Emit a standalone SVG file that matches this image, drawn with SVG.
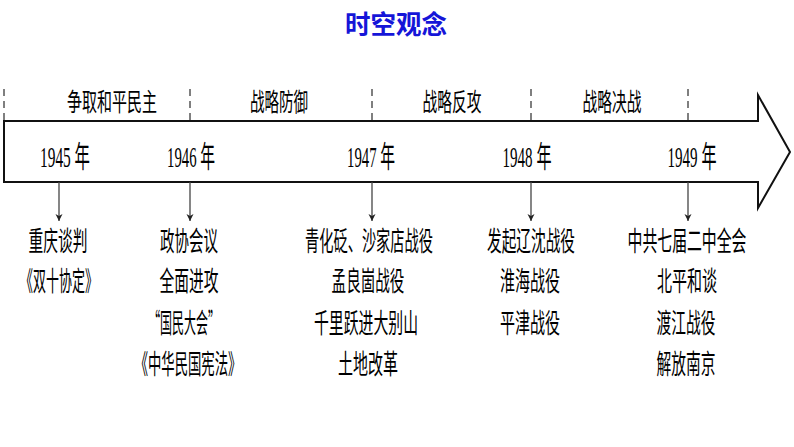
<svg xmlns="http://www.w3.org/2000/svg" width="794" height="447" viewBox="0 0 794 447">
<style>
.cjk{font-family:"Noto Sans CJK SC","Noto Sans",sans-serif;fill:#000;text-anchor:middle}
.ph{font-size:25px}
.yr{font-family:"Liberation Serif","Noto Sans CJK SC",serif;font-size:30px;fill:#000;text-anchor:middle}
.it{font-size:27px}
.title{font-family:"Noto Sans CJK SC",sans-serif;font-weight:bold;font-size:26px;fill:#1515d8;text-anchor:middle}
.dash{stroke:#555;stroke-width:1.5;stroke-dasharray:7,5;fill:none}
.down{stroke:#444;stroke-width:1.3;fill:none;marker-end:url(#ah)}
</style>
<defs>
<marker id="ah" viewBox="0 0 10 10" refX="10" refY="5" markerWidth="7" markerHeight="9" markerUnits="userSpaceOnUse" orient="auto">
<path d="M0,0 L10,5 L0,10 L3,5 Z" fill="#222"/>
</marker>
</defs>
<rect width="794" height="447" fill="#fff"/>
<text class="title" x="396" y="34" textLength="102" lengthAdjust="spacingAndGlyphs">时空观念</text>

<g id="timeline">
<polygon points="4,121 758,121 758,95 790,152 758,208 758,182 4,182" fill="#fff" stroke="#111" stroke-width="2" stroke-linejoin="miter"/>
</g>

<g id="connectors">
<line class="dash" x1="4" y1="89" x2="4" y2="121"/>
<line class="dash" x1="190" y1="89" x2="190" y2="121"/>
<line class="dash" x1="372" y1="89" x2="372" y2="121"/>
<line class="dash" x1="531" y1="89" x2="531" y2="121"/>
<line class="dash" x1="688" y1="89" x2="688" y2="121"/>
<line class="down" x1="59" y1="182" x2="59" y2="221"/>
<line class="down" x1="190" y1="182" x2="190" y2="221"/>
<line class="down" x1="372" y1="182" x2="372" y2="221"/>
<line class="down" x1="531" y1="182" x2="531" y2="221"/>
<line class="down" x1="688" y1="182" x2="688" y2="221"/>
</g>

<g id="phases">
<text class="cjk ph" transform="translate(112,111) scale(0.6,1)" textLength="150" lengthAdjust="spacingAndGlyphs">争取和平民主</text>
<text class="cjk ph" transform="translate(279,111) scale(0.6,1)" textLength="97" lengthAdjust="spacingAndGlyphs">战略防御</text>
<text class="cjk ph" transform="translate(452,111) scale(0.6,1)" textLength="98" lengthAdjust="spacingAndGlyphs">战略反攻</text>
<text class="cjk ph" transform="translate(612,111) scale(0.6,1)" textLength="98" lengthAdjust="spacingAndGlyphs">战略决战</text>
</g>

<g id="years">
<text class="yr" transform="translate(65,167) scale(0.51,1)" textLength="98" lengthAdjust="spacingAndGlyphs">1945 年</text>
<text class="yr" transform="translate(191,167) scale(0.51,1)" textLength="94" lengthAdjust="spacingAndGlyphs">1946 年</text>
<text class="yr" transform="translate(371,167) scale(0.51,1)" textLength="94" lengthAdjust="spacingAndGlyphs">1947 年</text>
<text class="yr" transform="translate(527,167) scale(0.51,1)" textLength="96" lengthAdjust="spacingAndGlyphs">1948 年</text>
<text class="yr" transform="translate(692,167) scale(0.51,1)" textLength="96" lengthAdjust="spacingAndGlyphs">1949 年</text>
</g>

<g id="events-1945">
<text class="cjk it" transform="translate(58,251) scale(0.556,1)" textLength="106" lengthAdjust="spacingAndGlyphs">重庆谈判</text>
<text class="cjk it" transform="translate(59,291) scale(0.556,1)" textLength="140" lengthAdjust="spacingAndGlyphs">《双十协定》</text>
</g>

<g id="events-1946">
<text class="cjk it" transform="translate(189,251) scale(0.556,1)" textLength="104" lengthAdjust="spacingAndGlyphs">政协会议</text>
<text class="cjk it" transform="translate(189,291) scale(0.556,1)" textLength="106" lengthAdjust="spacingAndGlyphs">全面进攻</text>
<text class="cjk it" transform="translate(184,333) scale(0.556,1)" textLength="129" lengthAdjust="spacingAndGlyphs">“国民大会”</text>
<text class="cjk it" transform="translate(188,374) scale(0.556,1)" textLength="192" lengthAdjust="spacingAndGlyphs">《中华民国宪法》</text>
</g>

<g id="events-1947">
<text class="cjk it" transform="translate(369,251) scale(0.556,1)" textLength="230" lengthAdjust="spacingAndGlyphs">青化砭、沙家店战役</text>
<text class="cjk it" transform="translate(368,291) scale(0.556,1)" textLength="131" lengthAdjust="spacingAndGlyphs">孟良崮战役</text>
<text class="cjk it" transform="translate(366,333) scale(0.556,1)" textLength="187" lengthAdjust="spacingAndGlyphs">千里跃进大别山</text>
<text class="cjk it" transform="translate(368,374) scale(0.556,1)" textLength="108" lengthAdjust="spacingAndGlyphs">土地改革</text>
</g>

<g id="events-1948">
<text class="cjk it" transform="translate(531,251) scale(0.556,1)" textLength="158" lengthAdjust="spacingAndGlyphs">发起辽沈战役</text>
<text class="cjk it" transform="translate(530,291) scale(0.556,1)" textLength="108" lengthAdjust="spacingAndGlyphs">淮海战役</text>
<text class="cjk it" transform="translate(530,333) scale(0.556,1)" textLength="108" lengthAdjust="spacingAndGlyphs">平津战役</text>
</g>

<g id="events-1949">
<text class="cjk it" transform="translate(687,251) scale(0.556,1)" textLength="214" lengthAdjust="spacingAndGlyphs">中共七届二中全会</text>
<text class="cjk it" transform="translate(687,291) scale(0.556,1)" textLength="108" lengthAdjust="spacingAndGlyphs">北平和谈</text>
<text class="cjk it" transform="translate(686,333) scale(0.556,1)" textLength="106" lengthAdjust="spacingAndGlyphs">渡江战役</text>
<text class="cjk it" transform="translate(686,374) scale(0.556,1)" textLength="106" lengthAdjust="spacingAndGlyphs">解放南京</text>
</g>
</svg>
